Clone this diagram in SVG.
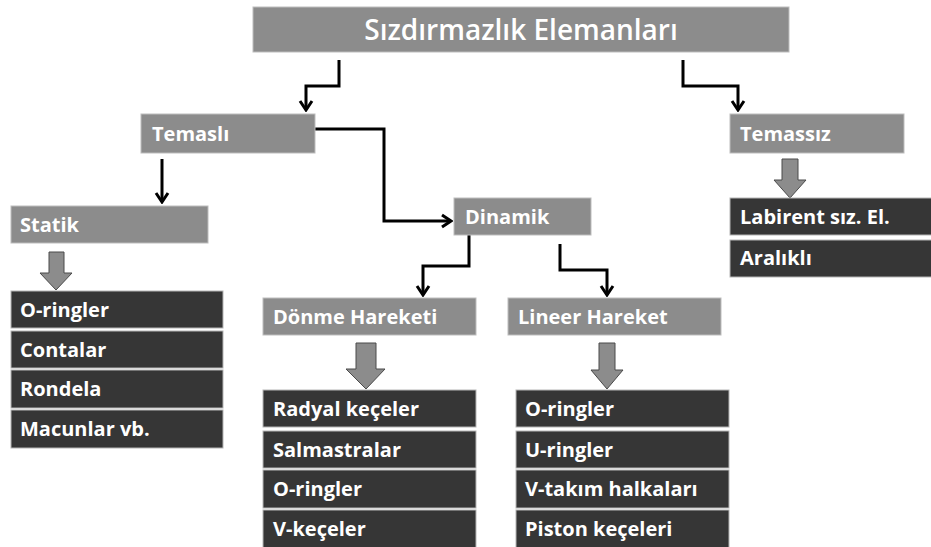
<svg xmlns="http://www.w3.org/2000/svg" width="931" height="547" viewBox="0 0 931 547">
<defs>
<style>
.hd{fill:#8c8c8c;stroke:#bdbdbd;stroke-width:1}
.it{fill:#363636;stroke:#b5b5b5;stroke-width:1}
.t{font-family:"Open Sans","Liberation Sans",sans-serif;font-weight:700;font-size:20px;fill:#ffffff}
.tt{font-family:"Open Sans","Liberation Sans",sans-serif;font-weight:600;font-size:28px;fill:#ffffff}
.c{fill:none;stroke:#000;stroke-width:3;stroke-linejoin:miter}
.ba{fill:#8c8c8c;stroke:#4a4a4a;stroke-width:1}
</style>
<marker id="ah" markerUnits="userSpaceOnUse" viewBox="-12 -8 14 16" refX="0" refY="0" markerWidth="14" markerHeight="16" orient="auto">
<path d="M-9,-6 L0,0 L-9,6" fill="none" stroke="#000" stroke-width="3"/>
</marker>
</defs>
<rect width="931" height="547" fill="#ffffff"/>

<g id="connectors">
<path class="c" d="M339,60 V86 H306 V110" marker-end="url(#ah)"/>
<path class="c" d="M683,60 V86 H738 V110" marker-end="url(#ah)"/>
<path class="c" d="M162,159 V202" marker-end="url(#ah)"/>
<path class="c" d="M315,129 H384 V221 H451" marker-end="url(#ah)"/>
<path class="c" d="M469,235 V266 H423 V295" marker-end="url(#ah)"/>
<path class="c" d="M560,244 V270 H607 V295" marker-end="url(#ah)"/>
<path class="ba" d="M49,252 H64 V273 H72 L56,290 L40,273 H49 Z"/>
<path class="ba" d="M356,343 H376 V369 H385 L366,389 L346,369 H356 Z"/>
<path class="ba" d="M599,343 H615 V370 H623 L607,389 L591,370 H599 Z"/>
<path class="ba" d="M782,159 H798 V180 H806 L790,198 L774,180 H782 Z"/>
</g>

<g id="n-root">
<rect class="hd" x="253" y="7" width="536" height="45"/>
<text class="tt" x="521" y="40" text-anchor="middle">Sızdırmazlık Elemanları</text>
</g>
<g id="n-temasli">
<rect class="hd" x="141" y="114" width="174" height="39"/>
<text class="t" x="152" y="141">Temaslı</text>
</g>
<g id="n-temassiz">
<rect class="hd" x="730" y="114" width="174" height="39"/>
<text class="t" x="740" y="141">Temassız</text>
</g>
<g id="n-statik">
<rect class="hd" x="11" y="206" width="197" height="37"/>
<text class="t" x="20" y="232">Statik</text>
</g>
<g id="n-dinamik">
<rect class="hd" x="454" y="198" width="137" height="37"/>
<text class="t" x="465" y="224">Dinamik</text>
</g>
<g id="n-donme">
<rect class="hd" x="263" y="298" width="213" height="37"/>
<text class="t" x="273" y="324">Dönme Hareketi</text>
</g>
<g id="n-lineer">
<rect class="hd" x="508" y="298" width="213" height="37"/>
<text class="t" x="518" y="324">Lineer Hareket</text>
</g>

<g id="n-statik-list">
<rect class="it" x="11" y="291" width="212" height="37"/>
<text class="t" x="20" y="317">O-ringler</text>
<rect class="it" x="11" y="331" width="212" height="37"/>
<text class="t" x="20" y="357">Contalar</text>
<rect class="it" x="11" y="370" width="212" height="38"/>
<text class="t" x="20" y="396">Rondela</text>
<rect class="it" x="11" y="410" width="212" height="38"/>
<text class="t" x="20" y="436">Macunlar vb.</text>
</g>

<g id="n-donme-list">
<rect class="it" x="263" y="390" width="213" height="37"/>
<text class="t" x="273" y="416">Radyal keçeler</text>
<rect class="it" x="263" y="431" width="213" height="37"/>
<text class="t" x="273" y="457">Salmastralar</text>
<rect class="it" x="263" y="470" width="213" height="38"/>
<text class="t" x="273" y="496">O-ringler</text>
<rect class="it" x="263" y="510" width="213" height="38"/>
<text class="t" x="273" y="536">V-keçeler</text>
</g>

<g id="n-lineer-list">
<rect class="it" x="516" y="390" width="213" height="37"/>
<text class="t" x="525" y="416">O-ringler</text>
<rect class="it" x="516" y="431" width="213" height="37"/>
<text class="t" x="525" y="457">U-ringler</text>
<rect class="it" x="516" y="470" width="213" height="38"/>
<text class="t" x="525" y="496">V-takım halkaları</text>
<rect class="it" x="516" y="510" width="213" height="38"/>
<text class="t" x="525" y="536">Piston keçeleri</text>
</g>

<g id="n-temassiz-list">
<rect class="it" x="730" y="198" width="202" height="37"/>
<text class="t" x="740" y="224">Labirent sız. El.</text>
<rect class="it" x="730" y="240" width="202" height="37"/>
<text class="t" x="740" y="265">Aralıklı</text>
</g>
</svg>
